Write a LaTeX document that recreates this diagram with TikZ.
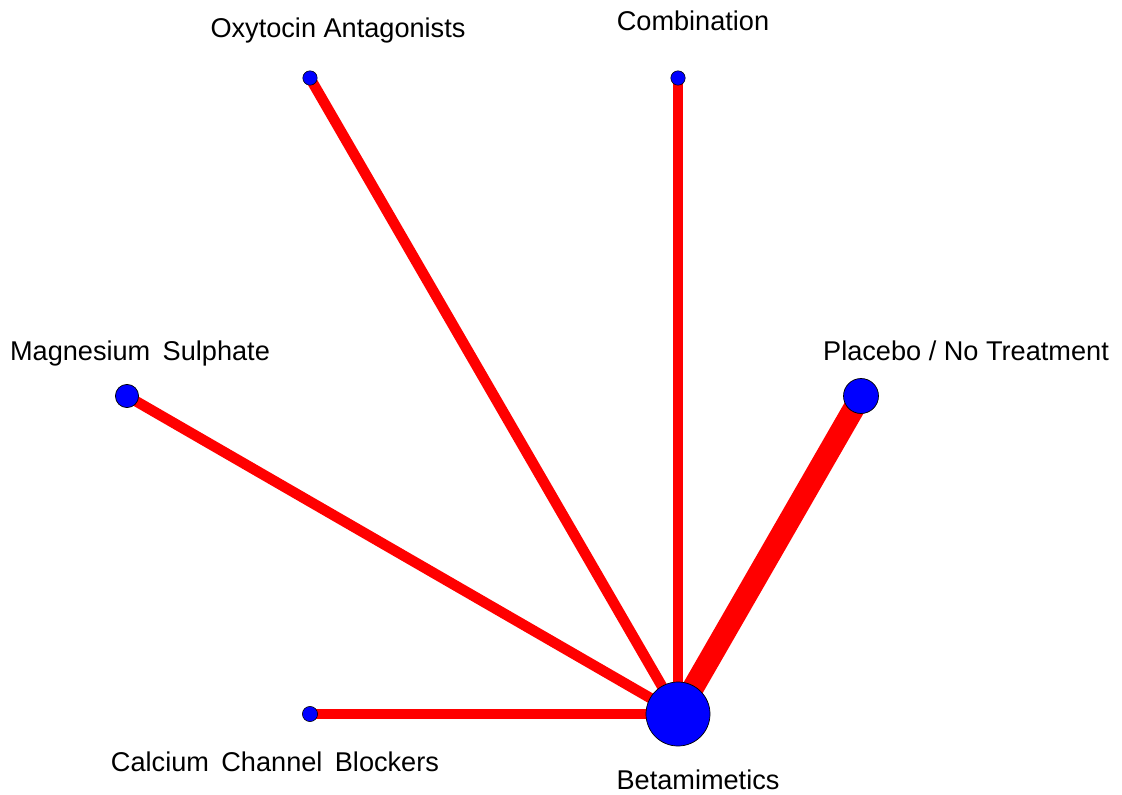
\documentclass[tikz,border=0pt]{standalone}
\usepackage{fontspec}
\setmainfont{Liberation Sans}
\usepackage{xcolor}
\definecolor{netb}{RGB}{0, 0, 255}
\definecolor{netr}{RGB}{255, 0, 0}
\usetikzlibrary{backgrounds}

\begin{document}
\begin{tikzpicture}[x=0.025cm, y=-0.025cm, every node/.style={font=\fontsize{19.3}{22}\selectfont}]
        \useasboundingbox (0, 0) rectangle (1122, 794);
        \node[circle, fill=netb, draw=black, line width=0.5pt, inner sep=0pt, minimum size=1.6cm] (beta) at (678, 714) {};
        \node[circle, fill=netb, draw=black, line width=0.5pt, inner sep=0pt, minimum size=0.875cm] (plac) at (861, 396) {};
        \node[circle, fill=netb, draw=black, line width=0.5pt, inner sep=0pt, minimum size=0.58cm] (magn) at (127, 396) {};
        \node[circle, fill=netb, draw=black, line width=0.4pt, inner sep=0pt, minimum size=0.36cm] (oxyt) at (310, 78) {};
        \node[circle, fill=netb, draw=black, line width=0.4pt, inner sep=0pt, minimum size=0.36cm] (comb) at (678, 78) {};
        \node[circle, fill=netb, draw=black, line width=0.4pt, inner sep=0pt, minimum size=0.38cm] (calc) at (310, 714) {};
        \node[anchor=base] (betalab) at (698, 789) {Betamimetics};
        \node[anchor=base] (placlab) at (966, 360) {Placebo / No Treatment};
        \node[anchor=base] (magnlab) at (140, 360) {Magnesium\hspace{0.18em} Sulphate};
        \node[anchor=base] (oxytlab) at (338, 38) {Oxytocin Antagonists};
        \node[anchor=base] (comblab) at (693, 31) {Combination};
        \node[anchor=base] (calclab) at (275, 771) {Calcium\hspace{0.18em} Channel\hspace{0.18em} Blockers};
        \begin{scope}[on background layer]
            \draw[netr, line width=15.5pt] (beta.center) -- (plac.center);
            \draw[netr, line width=7.5pt] (beta.center) -- (magn.center);
            \draw[netr, line width=7.5pt] (beta.center) -- (oxyt.center);
            \draw[netr, line width=7.5pt] (beta.center) -- (comb.center);
            \draw[netr, line width=7.5pt] (beta.center) -- (calc.center);
        \end{scope}
    \end{tikzpicture}
\end{document}
